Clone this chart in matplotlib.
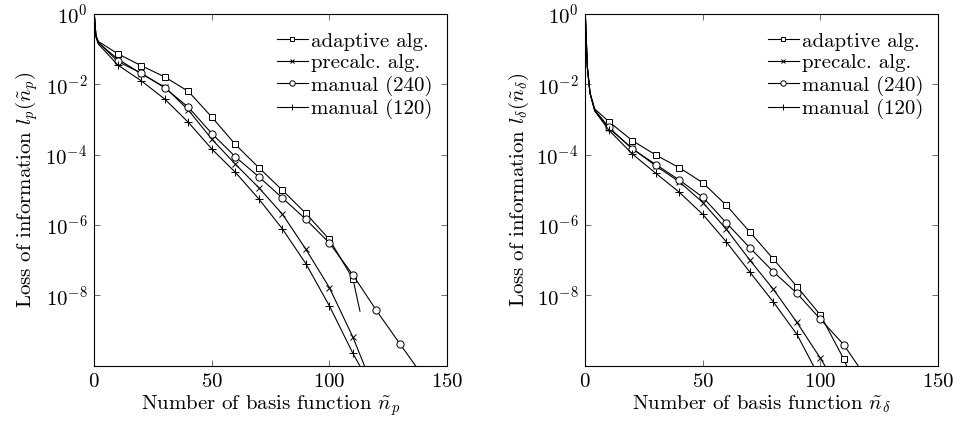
import matplotlib
matplotlib.use('Agg')
import matplotlib.pyplot as plt
import numpy as np

plt.rcParams['font.family'] = 'serif'
plt.rcParams['font.serif'] = ['cmr10', 'DejaVu Serif']
plt.rcParams['mathtext.fontset'] = 'cm'
plt.rcParams['axes.formatter.use_mathtext'] = True

# values, stored as log10 of the loss
# left panel: l_p(n_p)
p_adapt_x = [0, 0.7, 1.7, 10, 20, 30, 40, 50, 60, 70, 80, 90, 100, 110, 113]
p_adapt_log = [0, -0.6, -0.78, -1.13, -1.47, -1.79, -2.2, -2.93, -3.71, -4.37, -5.01, -5.67, -6.41, -7.53, -8.45]
p_precalc_x = [0, 0.7, 1.7, 10, 20, 30, 40, 50, 60, 70, 80, 90, 100, 110, 114.9]
p_precalc_log = [0, -0.63, -0.82, -1.28, -1.70, -2.08, -2.73, -3.56, -4.27, -4.94, -5.69, -6.69, -7.78, -9.19, -10]
p_man240_x = [0, 0.7, 1.7, 10, 20, 30, 40, 50, 60, 70, 80, 90, 100, 110, 120, 130, 136.6]
p_man240_log = [0, -0.62, -0.8, -1.35, -1.68, -2.1, -2.65, -3.40, -4.06, -4.63, -5.23, -5.84, -6.51, -7.42, -8.43, -9.38, -10]
p_man120_x = [0, 0.7, 1.7, 10, 20, 30, 40, 50, 60, 70, 80, 90, 100, 110, 112.9]
p_man120_log = [0, -0.65, -0.85, -1.45, -1.9, -2.42, -3.08, -3.84, -4.5, -5.26, -6.11, -7.1, -8.3, -9.65, -10]

# right panel: l_delta(n_delta)
d_adapt_x = [0, 0.85, 2, 4, 10, 20, 30, 40, 50, 60, 70, 80, 90, 100, 110, 111.1]
d_adapt_log = [0, -1.5, -2.25, -2.7, -3.06, -3.60, -4.01, -4.37, -4.80, -5.44, -6.20, -6.97, -7.75, -8.56, -9.82, -10]
d_precalc_x = [0, 0.85, 2, 4, 10, 20, 30, 40, 50, 60, 70, 80, 90, 100, 101.9]
d_precalc_log = [0, -1.5, -2.25, -2.74, -3.25, -3.82, -4.32, -4.77, -5.36, -6.12, -7.0, -7.83, -8.77, -9.79, -10]
d_man240_x = [0, 0.85, 2, 4, 10, 20, 30, 40, 50, 60, 70, 80, 90, 100, 110, 116]
d_man240_log = [0, -1.5, -2.25, -2.73, -3.22, -3.84, -4.28, -4.72, -5.21, -5.94, -6.65, -7.33, -7.94, -8.68, -9.41, -10]
d_man120_x = [0, 0.85, 2, 4, 10, 20, 30, 40, 50, 60, 70, 80, 90, 97]
d_man120_log = [0, -1.5, -2.25, -2.76, -3.30, -3.98, -4.53, -5.07, -5.70, -6.48, -7.34, -8.19, -9.11, -10]

labels = ['adaptive alg.', 'precalc. alg.', 'manual (240)', 'manual (120)']
markers = ['s', 'x', 'o', '+']
msizes = [3.8, 4.0, 5.2, 5.5]

fig = plt.figure(figsize=(9.6, 4.22), dpi=100)
ax1 = fig.add_axes([0.0982, 0.1334, 0.3674, 0.8334])
ax2 = fig.add_axes([0.6097, 0.1334, 0.3674, 0.8334])

panels = [
    (ax1, [(p_adapt_x, p_adapt_log), (p_precalc_x, p_precalc_log),
           (p_man240_x, p_man240_log), (p_man120_x, p_man120_log)],
     r'Number of basis function $\tilde{n}_p$', r'Loss of information $l_p(\tilde{n}_p)$'),
    (ax2, [(d_adapt_x, d_adapt_log), (d_precalc_x, d_precalc_log),
           (d_man240_x, d_man240_log), (d_man120_x, d_man120_log)],
     r'Number of basis function $\tilde{n}_\delta$', r'Loss of information $l_\delta(\tilde{n}_\delta)$'),
]

for ax, series, xlab, ylab in panels:
    for (xs, lg), lab, mk, ms in zip(series, labels, markers, msizes):
        xs = np.asarray(xs, dtype=float)
        ys = 10.0 ** np.asarray(lg, dtype=float)
        every = [i for i, x in enumerate(xs) if x > 0 and x % 10 == 0]
        ax.plot(xs, ys, color='black', lw=0.8, marker=mk, ms=ms, mew=0.7,
                mfc='white', mec='black', markevery=every, label=lab)
    ax.set_yscale('log')
    ax.set_xlim(0, 150)
    ax.set_ylim(1e-10, 1)
    ax.set_xticks([0, 50, 100, 150])
    ax.set_yticks([1e0, 1e-2, 1e-4, 1e-6, 1e-8])
    ax.yaxis.set_minor_locator(matplotlib.ticker.NullLocator())
    ax.tick_params(direction='in', top=True, right=True, length=4, width=0.6,
                   color='#555555', labelsize=15, pad=5)
    ax.set_xlabel(xlab, fontsize=15, labelpad=2)
    ax.set_ylabel(ylab, fontsize=15, labelpad=4)
    for sp in ax.spines.values():
        sp.set_linewidth(0.8)
    ax.legend(loc='upper right', bbox_to_anchor=(1.0, 0.99), frameon=False,
              fontsize=15, markerscale=0.75, handlelength=1.5, handletextpad=0.15,
              labelspacing=0.15, borderaxespad=0.3)

fig.savefig('out.png', dpi=100)
